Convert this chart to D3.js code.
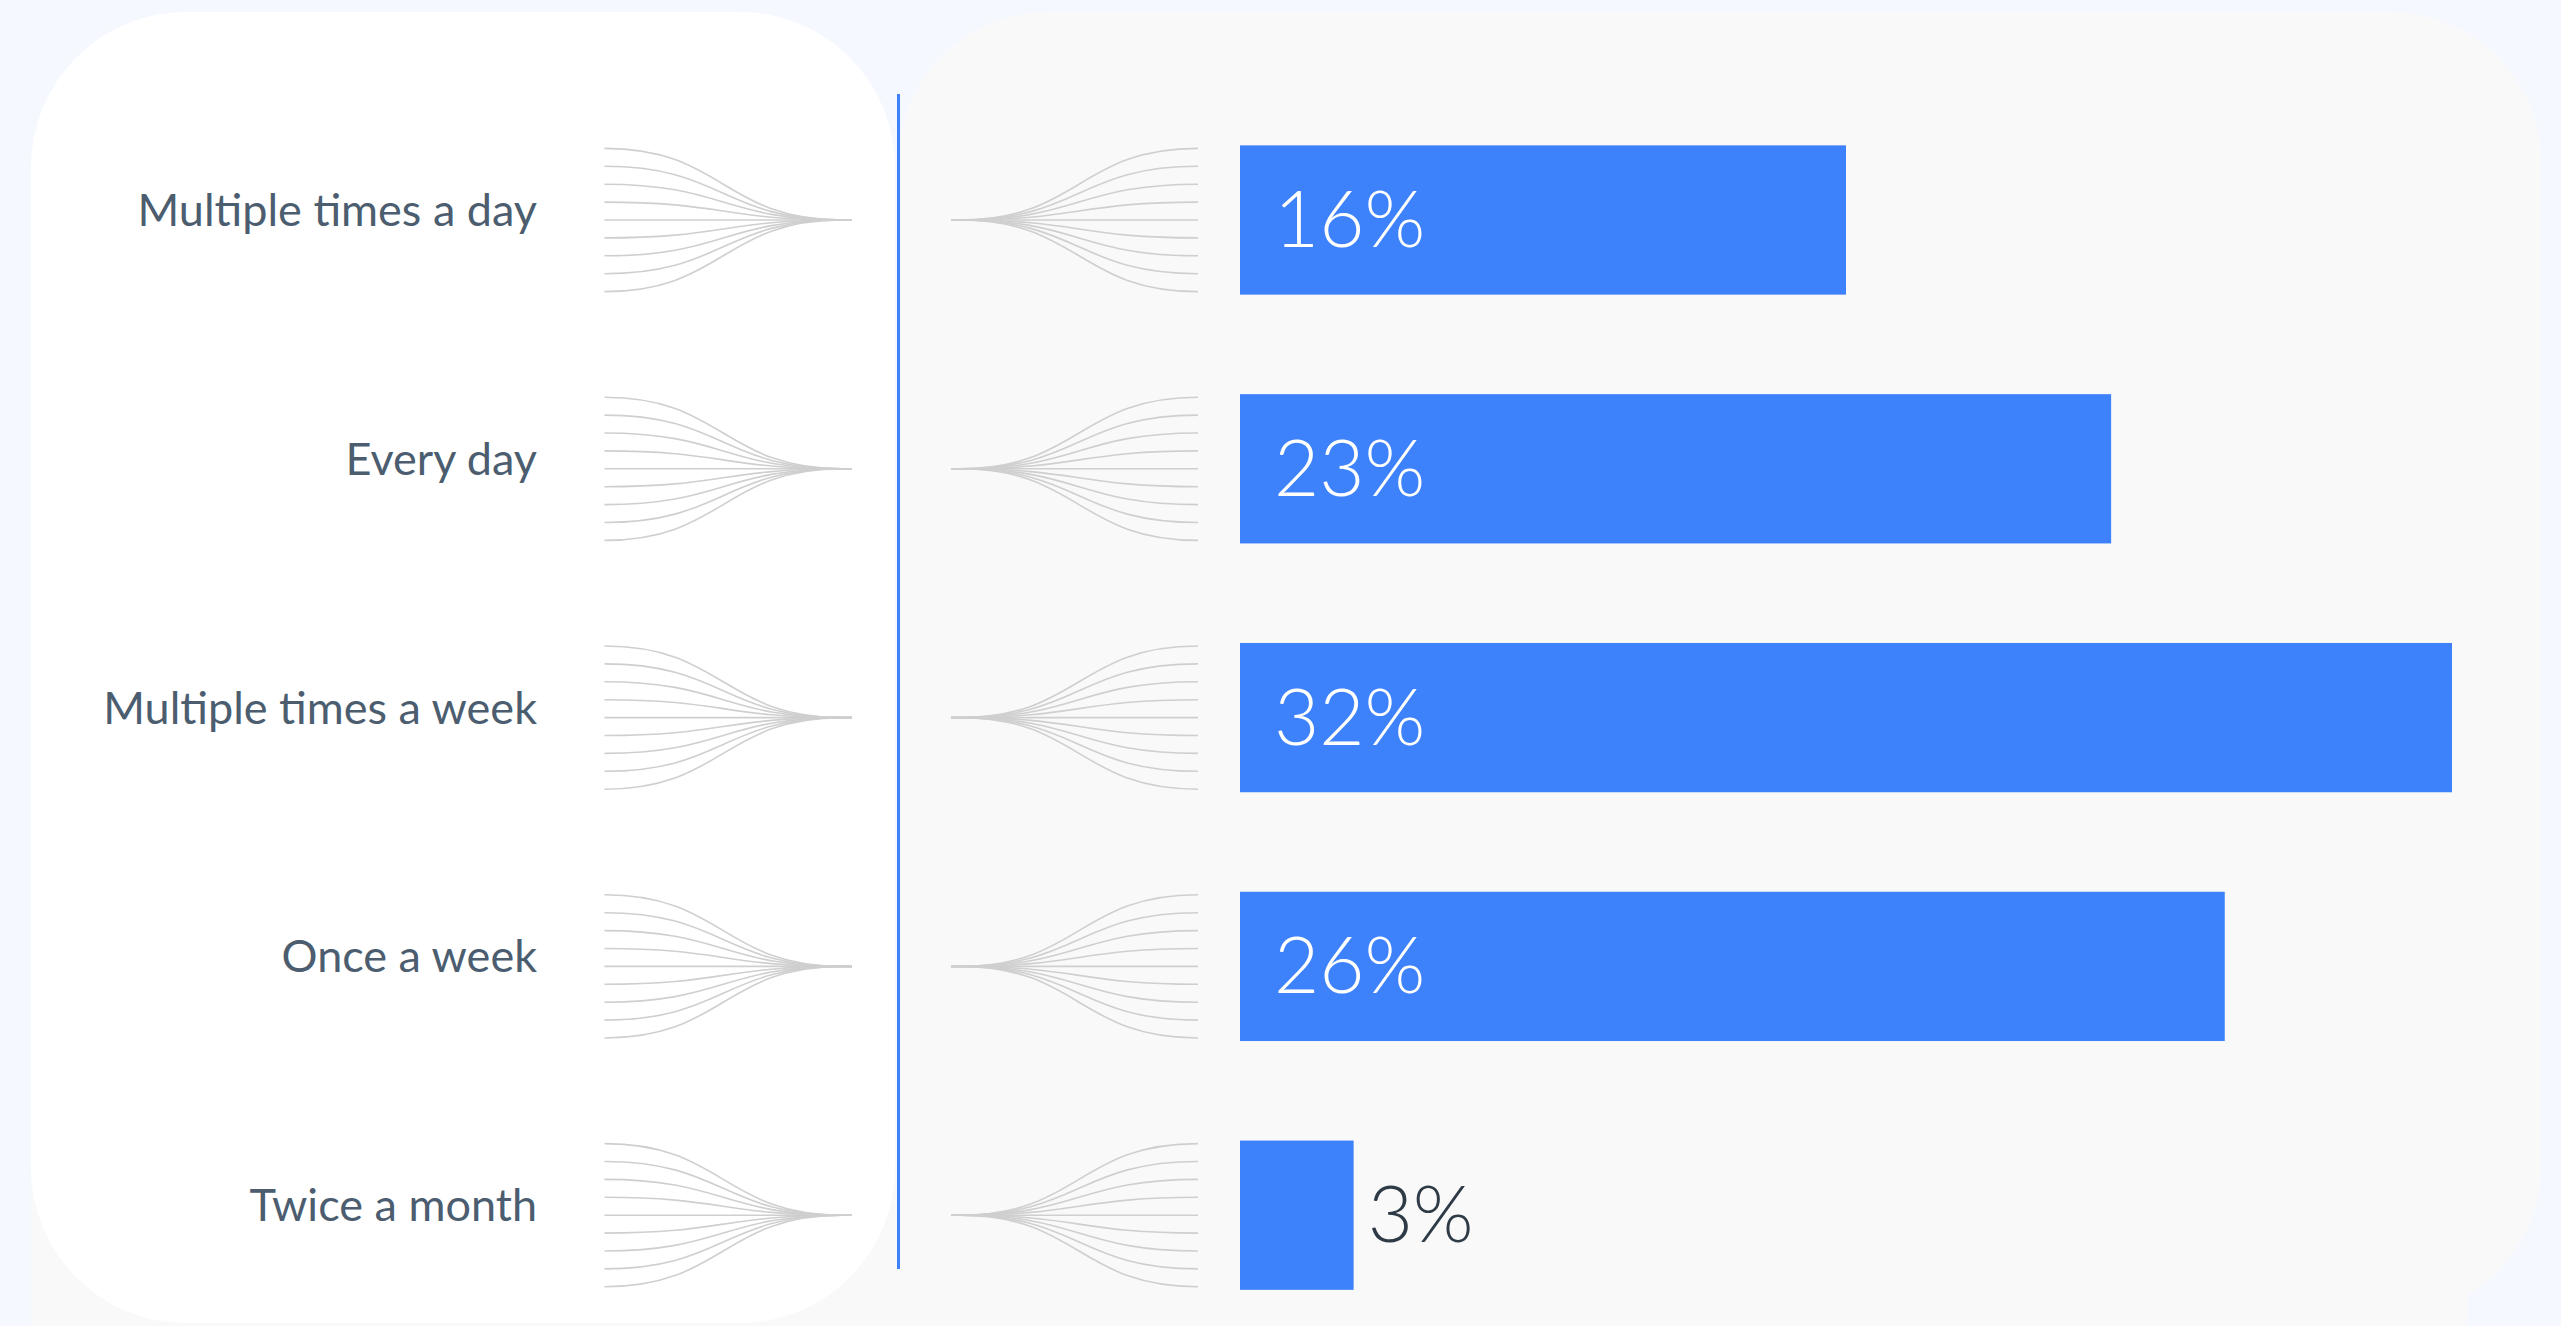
<!DOCTYPE html>
<html>
<head>
<meta charset="utf-8">
<script src="https://cdn.jsdelivr.net/npm/d3@7"></script>
<style>
  html, body { margin: 0; padding: 0; background: #f5f8fe; overflow: hidden; }
  svg { display: block; }
</style>
</head>
<body>
<svg id="chart" width="2561" height="1326"></svg>
<script>
// ---- data ----
const categories = ["Multiple times a day", "Every day", "Multiple times a week", "Once a week", "Twice a month"];
const values = [16, 23, 32, 26, 3];
const valueSuffix = "%";
const fanLineCount = 9;

// ---- layout ----
const W = 2561, H = 1326;
const svg = d3.select("#chart");

const barColor = "#3d82fb";

// background panels
svg.append("rect").attr("x", 31).attr("y", 1000).attr("width", 2467 - 31).attr("height", H - 1000)
  .attr("fill", "#f9f9f9");
svg.append("rect").attr("x", 898).attr("y", 12).attr("width", 2541 - 898).attr("height", 1316 - 12)
  .attr("rx", 150).attr("ry", 150).attr("fill", "#f9f9f9");
svg.append("rect").attr("x", 31).attr("y", 12).attr("width", 895 - 31).attr("height", 1323 - 12)
  .attr("rx", 155).attr("ry", 155).attr("fill", "#ffffff");

// scales
const y = d3.scaleBand().domain(categories).range([95.6, 1339.6]).paddingInner(0.4).paddingOuter(0.2);
const x = d3.scaleLinear().domain([0, d3.max(values)]).range([1240, 2452]);
const fanSpread = d3.scaleLinear().domain([0, fanLineCount - 1]).range([-71.6, 71.6]);

const rows = categories.map((c, i) => ({ cat: c, value: values[i], cy: y(c) + y.bandwidth() / 2 }));

// vertical blue divider
svg.append("line").attr("x1", 898.5).attr("x2", 898.5).attr("y1", 94).attr("y2", 1269)
  .attr("stroke", barColor).attr("stroke-width", 3);

// fans
const link = d3.linkHorizontal().x(d => d[0]).y(d => d[1]);
const fanG = svg.append("g").attr("fill", "none").attr("stroke", "#cfcfcf").attr("stroke-width", 1.6);
rows.forEach(r => {
  d3.range(fanLineCount).forEach(k => {
    const yy = r.cy + fanSpread(k);
    // left fan: spreads on the left, converges to the right
    fanG.append("path").attr("d", link({ source: [604.5, yy], target: [842, r.cy] }) + `L852,${r.cy}`);
    // right fan: converges on the left, spreads on the right
    fanG.append("path").attr("d", `M951,${r.cy}L960,${r.cy}` + link({ source: [960, r.cy], target: [1198, yy] }).replace(/^M[^C]*/, ""));
  });
});

// category labels
svg.append("g").selectAll("text").data(rows).join("text")
  .attr("x", 537)
  .attr("y", d => d.cy + 6)
  .attr("text-anchor", "end")
  .attr("font-family", "Lato, 'Open Sans', sans-serif")
  .attr("font-size", 45)
  .attr("fill", "#4b5d6f")
  .text(d => d.cat);

// bars
svg.append("g").selectAll("rect").data(rows).join("rect")
  .attr("x", x(0))
  .attr("y", d => y(d.cat))
  .attr("width", d => x(d.value) - x(0))
  .attr("height", y.bandwidth())
  .attr("fill", barColor);

// value labels
svg.append("g").selectAll("text").data(rows).join("text")
  .attr("x", d => d.value < 5 ? x(d.value) + 14 : x(0) + 34)
  .attr("y", d => d.cy + 27)
  .attr("font-family", "Lato, 'Open Sans', sans-serif")
  .attr("font-weight", 300)
  .attr("font-size", 78)
  .attr("fill", d => d.value < 5 ? "#2e3a45" : "#ffffff")
  .text(d => d.value + valueSuffix);
</script>
</body>
</html>
